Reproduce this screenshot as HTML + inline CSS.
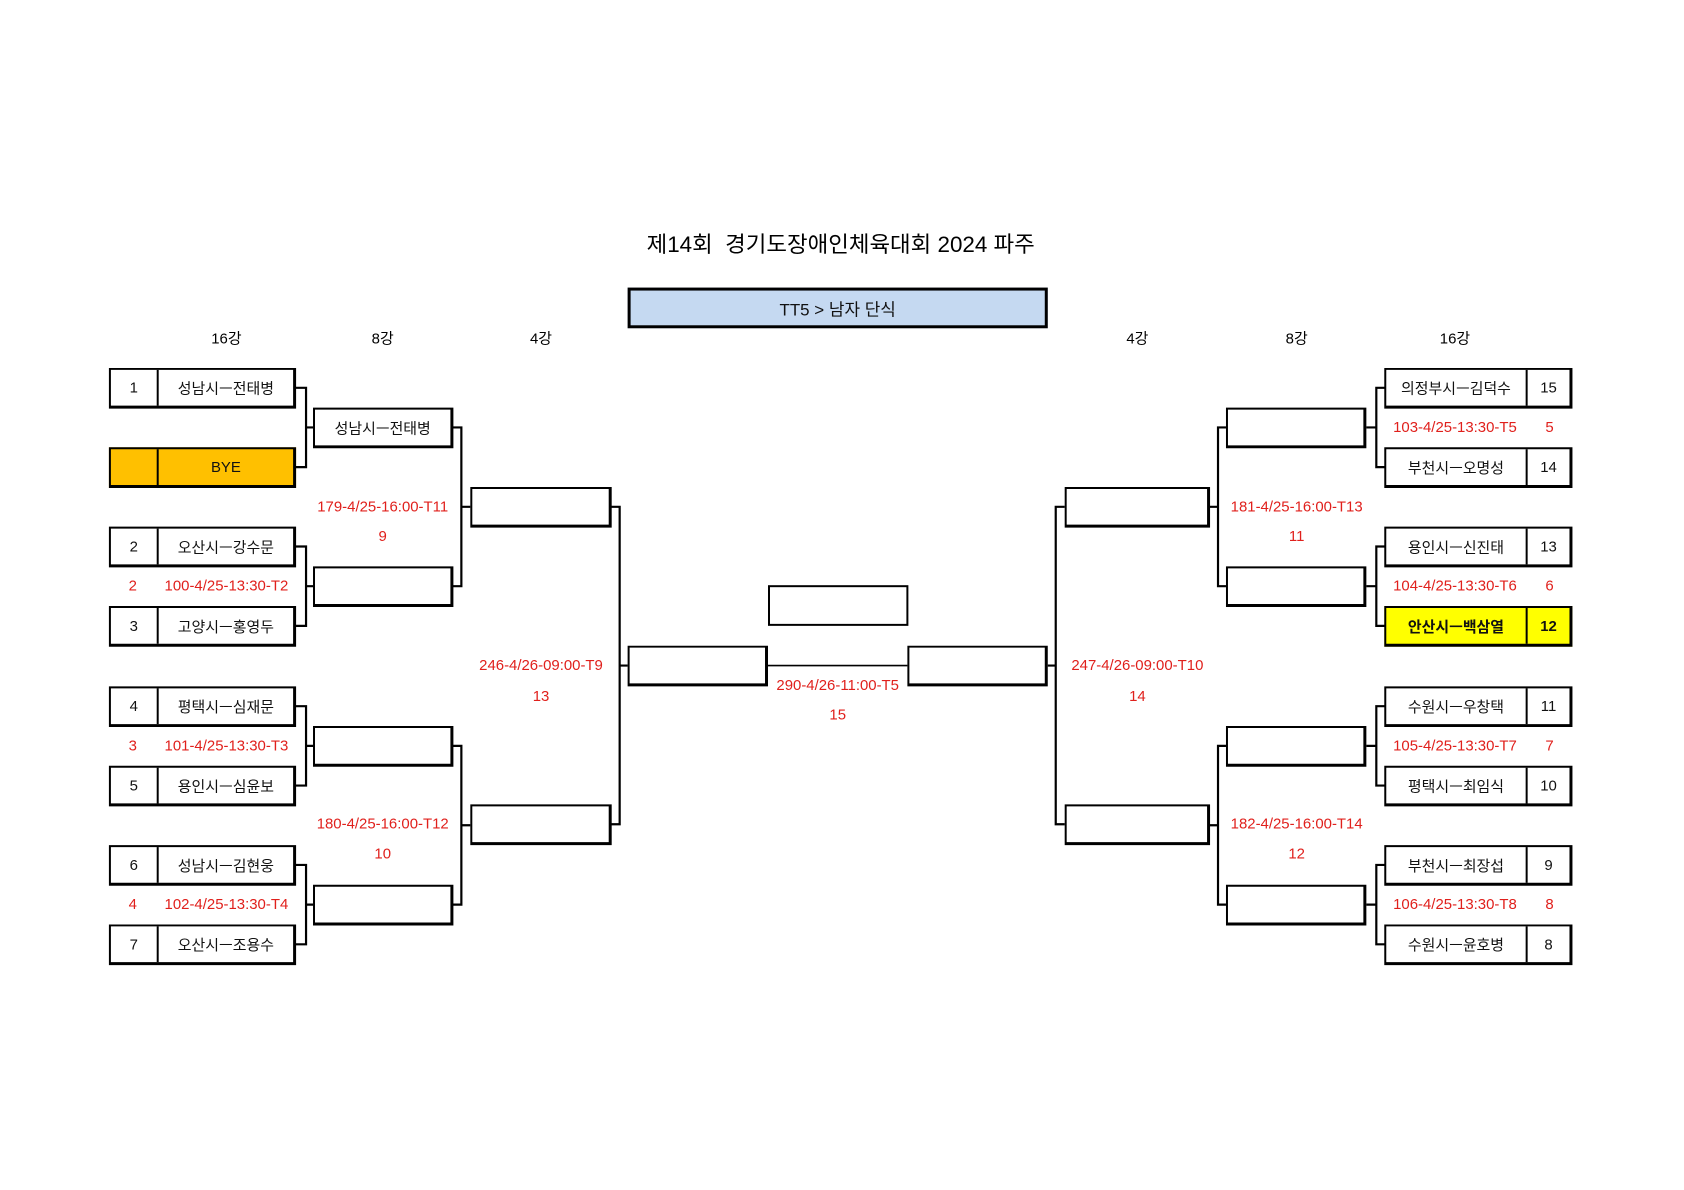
<!DOCTYPE html>
<html><head><meta charset="utf-8"><style>
body{margin:0;width:1684px;height:1190px;background:#fff;position:relative;overflow:hidden;font-family:"Liberation Sans","Noto Sans CJK KR",sans-serif;}
#w{position:absolute;left:0;top:0;width:1684px;height:1190px;transform-origin:0 0;transform:translate(-0.6px,0.9px) scale(0.9956,0.992);}
.b{position:absolute;box-sizing:border-box;border:2px solid #000;border-bottom-width:3px;border-right-width:3px;background:#fff;font-size:15px;color:#111;}
.b span{position:absolute;top:0;bottom:0;display:flex;align-items:center;justify-content:center;}
.t{position:absolute;transform:translate(-50%,-50%);white-space:nowrap;font-size:15px;}
.r{color:#e0201c;}
</style></head><body><div id="w">
<div class="t" style="left:845px;top:244px;font-size:22.5px;">제14회 &nbsp;경기도장애인체육대회 2024 파주</div>
<div class="b" style="left:631px;top:289px;width:422px;height:41px;background:#c5d9f1;border-width:3px;"><span style="left:0;right:0;font-size:17px;">TT5 &gt; 남자 단식</span></div>
<div class="t" style="left:228px;top:340px;">16강</div>
<div class="t" style="left:385px;top:340px;">8강</div>
<div class="t" style="left:544px;top:340px;">4강</div>
<div class="t" style="left:1143px;top:340px;">4강</div>
<div class="t" style="left:1303px;top:340px;">8강</div>
<div class="t" style="left:1462px;top:340px;">16강</div>

<div class="b" style="left:110px;top:370px;width:188px;height:41px;"><span style="left:0;width:46px;border-right:2px solid #000;">1</span><span style="left:48px;right:0;">성남시ㅡ전태병</span></div>
<div class="b" style="left:110px;top:450px;width:188px;height:41px;background:#ffc000;"><span style="left:0;width:46px;border-right:2px solid #000;"></span><span style="left:48px;right:0;">BYE</span></div>
<div class="b" style="left:110px;top:530px;width:188px;height:41px;"><span style="left:0;width:46px;border-right:2px solid #000;">2</span><span style="left:48px;right:0;">오산시ㅡ강수문</span></div>
<div class="b" style="left:110px;top:610px;width:188px;height:41px;"><span style="left:0;width:46px;border-right:2px solid #000;">3</span><span style="left:48px;right:0;">고양시ㅡ홍영두</span></div>
<div class="b" style="left:110px;top:691px;width:188px;height:41px;"><span style="left:0;width:46px;border-right:2px solid #000;">4</span><span style="left:48px;right:0;">평택시ㅡ심재문</span></div>
<div class="b" style="left:110px;top:771px;width:188px;height:41px;"><span style="left:0;width:46px;border-right:2px solid #000;">5</span><span style="left:48px;right:0;">용인시ㅡ심윤보</span></div>
<div class="b" style="left:110px;top:851px;width:188px;height:41px;"><span style="left:0;width:46px;border-right:2px solid #000;">6</span><span style="left:48px;right:0;">성남시ㅡ김현웅</span></div>
<div class="b" style="left:110px;top:931px;width:188px;height:41px;"><span style="left:0;width:46px;border-right:2px solid #000;">7</span><span style="left:48px;right:0;">오산시ㅡ조용수</span></div>
<div class="t r" style="left:134px;top:590px;">2</div><div class="t r" style="left:228px;top:590px;">100-4/25-13:30-T2</div>
<div class="t r" style="left:134px;top:751px;">3</div><div class="t r" style="left:228px;top:751px;">101-4/25-13:30-T3</div>
<div class="t r" style="left:134px;top:911px;">4</div><div class="t r" style="left:228px;top:911px;">102-4/25-13:30-T4</div>

<div class="b" style="left:1391px;top:370px;width:189px;height:41px;"><span style="left:0;width:140px;border-right:2px solid #000;">의정부시ㅡ김덕수</span><span style="left:142px;right:0;">15</span></div>
<div class="b" style="left:1391px;top:450px;width:189px;height:41px;"><span style="left:0;width:140px;border-right:2px solid #000;">부천시ㅡ오명성</span><span style="left:142px;right:0;">14</span></div>
<div class="b" style="left:1391px;top:530px;width:189px;height:41px;"><span style="left:0;width:140px;border-right:2px solid #000;">용인시ㅡ신진태</span><span style="left:142px;right:0;">13</span></div>
<div class="b" style="left:1391px;top:610px;width:189px;height:41px;background:#ffff00;font-weight:bold;"><span style="left:0;width:140px;border-right:2px solid #000;">안산시ㅡ백삼열</span><span style="left:142px;right:0;">12</span></div>
<div class="b" style="left:1391px;top:691px;width:189px;height:41px;"><span style="left:0;width:140px;border-right:2px solid #000;">수원시ㅡ우창택</span><span style="left:142px;right:0;">11</span></div>
<div class="b" style="left:1391px;top:771px;width:189px;height:41px;"><span style="left:0;width:140px;border-right:2px solid #000;">평택시ㅡ최임식</span><span style="left:142px;right:0;">10</span></div>
<div class="b" style="left:1391px;top:851px;width:189px;height:41px;"><span style="left:0;width:140px;border-right:2px solid #000;">부천시ㅡ최장섭</span><span style="left:142px;right:0;">9</span></div>
<div class="b" style="left:1391px;top:931px;width:189px;height:41px;"><span style="left:0;width:140px;border-right:2px solid #000;">수원시ㅡ윤호병</span><span style="left:142px;right:0;">8</span></div>
<div class="t r" style="left:1462px;top:430px;">103-4/25-13:30-T5</div><div class="t r" style="left:1557px;top:430px;">5</div>
<div class="t r" style="left:1462px;top:590px;">104-4/25-13:30-T6</div><div class="t r" style="left:1557px;top:590px;">6</div>
<div class="t r" style="left:1462px;top:751px;">105-4/25-13:30-T7</div><div class="t r" style="left:1557px;top:751px;">7</div>
<div class="t r" style="left:1462px;top:911px;">106-4/25-13:30-T8</div><div class="t r" style="left:1557px;top:911px;">8</div>

<div class="b" style="left:315px;top:410px;width:141px;height:41px;"><span style="left:0;right:0;">성남시ㅡ전태병</span></div>
<div class="b" style="left:315px;top:570px;width:141px;height:41px;"></div>
<div class="b" style="left:315px;top:731px;width:141px;height:41px;"></div>
<div class="b" style="left:315px;top:891px;width:141px;height:41px;"></div>
<div class="b" style="left:1232px;top:410px;width:141px;height:41px;"></div>
<div class="b" style="left:1232px;top:570px;width:141px;height:41px;"></div>
<div class="b" style="left:1232px;top:731px;width:141px;height:41px;"></div>
<div class="b" style="left:1232px;top:891px;width:141px;height:41px;"></div>
<div class="t r" style="left:385px;top:510px;">179-4/25-16:00-T11</div><div class="t r" style="left:385px;top:540px;">9</div>
<div class="t r" style="left:385px;top:830px;">180-4/25-16:00-T12</div><div class="t r" style="left:385px;top:860px;">10</div>
<div class="t r" style="left:1303px;top:510px;">181-4/25-16:00-T13</div><div class="t r" style="left:1303px;top:540px;">11</div>
<div class="t r" style="left:1303px;top:830px;">182-4/25-16:00-T14</div><div class="t r" style="left:1303px;top:860px;">12</div>

<div class="b" style="left:473px;top:490px;width:142px;height:41px;"></div>
<div class="b" style="left:473px;top:810px;width:142px;height:41px;"></div>
<div class="b" style="left:1070px;top:490px;width:146px;height:41px;"></div>
<div class="b" style="left:1070px;top:810px;width:146px;height:41px;"></div>
<div class="t r" style="left:544px;top:670px;">246-4/26-09:00-T9</div><div class="t r" style="left:544px;top:701px;">13</div>
<div class="t r" style="left:1143px;top:670px;">247-4/26-09:00-T10</div><div class="t r" style="left:1143px;top:701px;">14</div>

<div class="b" style="left:631px;top:650px;width:141px;height:41px;"></div>
<div class="b" style="left:912px;top:650px;width:141px;height:41px;"></div>
<div class="b" style="left:772px;top:589px;width:141px;height:41px;border-width:2px;"></div>
<div class="t r" style="left:842px;top:690px;">290-4/26-11:00-T5</div><div class="t r" style="left:842px;top:720px;">15</div>

<svg style="position:absolute;left:0;top:0" width="1684" height="1190" fill="none" stroke="#000" stroke-width="2.2">
<path d="M297 390H308V470H297M308 430H315 M297 550H308V630H297M308 590H315 M297 711H308V791H297M308 751H315 M297 871H308V951H297M308 911H315"/>
<path d="M455 430H464V590H455M464 510H473 M455 751H464V911H455M464 831H473"/>
<path d="M614 510H623V830H614M623 670H631"/>
<path d="M1392 390H1383V470H1392M1383 430H1373 M1392 550H1383V630H1392M1383 590H1373 M1392 711H1383V791H1392M1383 751H1373 M1392 871H1383V951H1392M1383 911H1373"/>
<path d="M1232 430H1224V590H1232M1224 510H1215 M1232 751H1224V911H1232M1224 831H1215"/>
<path d="M1070 510H1061V830H1070M1061 670H1053"/>
<path d="M772 670H912" stroke-width="1.6"/>
</svg>
</div></body></html>
